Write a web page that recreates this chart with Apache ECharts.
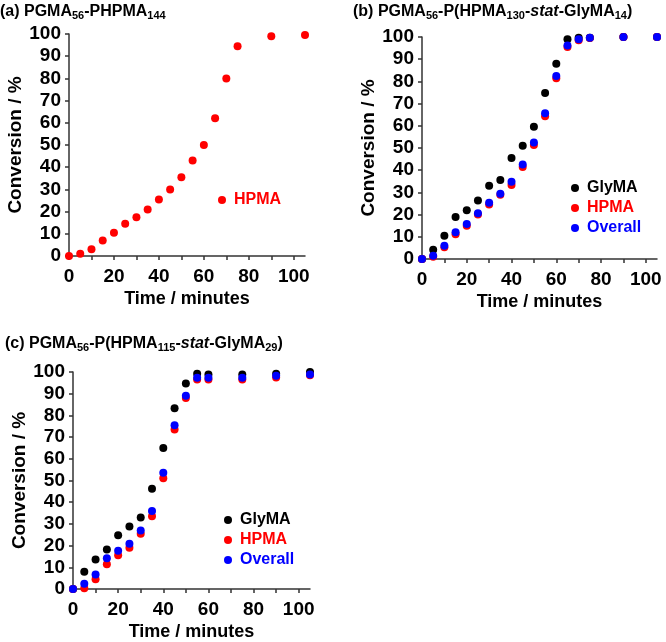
<!DOCTYPE html>
<html>
<head>
<meta charset="utf-8">
<script src="https://cdn.jsdelivr.net/npm/echarts@6/dist/echarts.min.js"></script>
<style>
  html, body { margin: 0; padding: 0; background: #fff; }
  #chart { width: 666px; height: 642px; }
</style>
</head>
<body>
<div id="chart"></div>
<script>
// panel (a) PGMA56-PHPMA144
const timeA = [0, 5, 10, 15, 20, 25, 30, 35, 40, 45, 50, 55, 60, 65, 70, 75, 90, 105];
const hpmaA = [0, 1, 3, 7, 10.5, 14.5, 17.5, 21, 25.5, 30, 35.5, 43, 50, 62, 80, 94.5, 99, 99.5];

// panel (b) PGMA56-P(HPMA130-stat-GlyMA14)
const timeB = [0, 5, 10, 15, 20, 25, 30, 35, 40, 45, 50, 55, 60, 65, 70, 75, 90, 105];
const glymaB = [0, 4.2, 10.5, 18.9, 22, 26.4, 33, 35.6, 45.5, 51, 59.6, 74.8, 88, 99, 99.7, 99.7, 100, 100];
const hpmaB = [0, 1, 5.3, 11.2, 15, 20, 24.5, 28.9, 33.3, 41.4, 51.4, 64.3, 81.4, 95.5, 98.5, 99.5, 100, 100];
const overallB = [0, 1.5, 6, 12, 15.8, 20.6, 25.3, 29.4, 34.8, 42.6, 52.5, 65.6, 82.4, 96.2, 99, 99.7, 100, 100];

// panel (c) PGMA56-P(HPMA115-stat-GlyMA29)
const timeC = [0, 5, 10, 15, 20, 25, 30, 35, 40, 45, 50, 55, 60, 75, 90, 105];
const glymaC = [0, 8, 13.6, 18.2, 24.8, 28.8, 32.9, 46.2, 65, 83.3, 94.7, 99.2, 98.8, 98.8, 99.2, 100];
const hpmaC = [0, 0.3, 4.5, 11.4, 15.6, 19, 25.5, 33.5, 51, 73.5, 88, 96.5, 96.5, 96.5, 97.5, 98.5];
const overallC = [0, 2.4, 6.7, 14.2, 17.6, 20.9, 27, 36, 53.6, 75.5, 89.1, 97.3, 97.3, 97.3, 98.3, 98.9];

const xTicks = [0, 10, 20, 30, 40, 50, 60, 70, 80, 90, 100];
const xLabels = [0, 20, 40, 60, 80, 100];

const FONT = '"Liberation Sans", Arial, sans-serif';
const RED = '#ff0000';
const BLUE = '#0000ff';
const BLACK = '#000000';

const chart = echarts.init(document.getElementById('chart'), null, { renderer: 'canvas' });

function pairs(xs, ys) {
    return xs.map((x, i) => [x, ys[i]]);
}

function xAxisFor(gridIndex) {
    return {
        type: 'value', gridIndex: gridIndex, min: 0, max: 105,
        name: 'Time / minutes', nameLocation: 'middle', nameGap: 34,
        nameTextStyle: { fontFamily: FONT, fontWeight: 'bold', fontSize: 18, color: '#000' },
        axisLine: { lineStyle: { color: '#333', width: 1.5 } },
        axisTick: { customValues: xTicks, length: 4, lineStyle: { color: '#333', width: 1.5 } },
        axisLabel: { customValues: xLabels, margin: 11, fontFamily: FONT, fontWeight: 'bold', fontSize: 19, color: '#000' },
        splitLine: { show: false }
    };
}

function yAxisFor(gridIndex) {
    return {
        type: 'value', gridIndex: gridIndex, min: 0, max: 100, interval: 10,
        name: 'Conversion / %', nameLocation: 'middle', nameGap: 44,
        nameTextStyle: { fontFamily: FONT, fontWeight: 'bold', fontSize: 19, color: '#000' },
        axisLine: { show: true, lineStyle: { color: '#333', width: 1.5 } },
        axisTick: { show: true, length: 4, lineStyle: { color: '#333', width: 1.5 } },
        axisLabel: { margin: 8, fontFamily: FONT, fontWeight: 'bold', fontSize: 19, color: '#000' },
        splitLine: { show: false }
    };
}

function scatter(name, idx, data, color) {
    return {
        name: name, type: 'scatter', xAxisIndex: idx, yAxisIndex: idx,
        data: data, symbolSize: 8, itemStyle: { color: color, opacity: 1 },
        emphasis: { disabled: true }
    };
}

const titleRich = {
    s: { fontFamily: FONT, fontWeight: 'bold', fontSize: 11, color: '#000', padding: [7, 0, 0, 0] },
    i: { fontFamily: FONT, fontWeight: 'bold', fontStyle: 'italic', fontSize: 16, color: '#000' }
};

function titleFor(text, left, top) {
    return {
        text: text, left: left, top: top, padding: 0,
        textStyle: { fontFamily: FONT, fontWeight: 'bold', fontSize: 16, color: '#000', rich: titleRich }
    };
}

function legendFor(items, left, top) {
    return {
        left: left, top: top, orient: 'vertical', itemGap: 4,
        itemWidth: 8, itemHeight: 8, icon: 'circle', padding: 0,
        selectedMode: false,
        textStyle: { fontFamily: FONT, fontWeight: 'bold', fontSize: 16, padding: [0, 0, 0, 3] },
        data: items.map(it => ({ name: it[0], textStyle: { color: it[1] } }))
    };
}

const option = {
    animation: false,
    backgroundColor: '#fff',
    title: [
        titleFor('(a) PGMA{s|56}-PHPMA{s|144}', 0, 3),
        titleFor('(b) PGMA{s|56}-P(HPMA{s|130}-{i|stat}-GlyMA{s|14})', 353, 3),
        titleFor('(c) PGMA{s|56}-P(HPMA{s|115}-{i|stat}-GlyMA{s|29})', 5, 335)
    ],
    legend: [
        legendFor([['HPMA', RED]], 218, 192),
        legendFor([['GlyMA', BLACK], ['HPMA', RED], ['Overall', BLUE]], 571, 180),
        legendFor([['GlyMA', BLACK], ['HPMA', RED], ['Overall', BLUE]], 224, 512)
    ],
    grid: [
        { left: 69, top: 34, width: 236, height: 222 },
        { left: 422, top: 37, width: 235, height: 222 },
        { left: 73, top: 372, width: 237, height: 220 }
    ],
    xAxis: [xAxisFor(0), xAxisFor(1), xAxisFor(2)],
    yAxis: [yAxisFor(0), yAxisFor(1), yAxisFor(2)],
    series: [
        scatter('HPMA', 0, pairs(timeA, hpmaA), RED),
        scatter('GlyMA', 1, pairs(timeB, glymaB), BLACK),
        scatter('HPMA', 1, pairs(timeB, hpmaB), RED),
        scatter('Overall', 1, pairs(timeB, overallB), BLUE),
        scatter('GlyMA', 2, pairs(timeC, glymaC), BLACK),
        scatter('HPMA', 2, pairs(timeC, hpmaC), RED),
        scatter('Overall', 2, pairs(timeC, overallC), BLUE)
    ]
};

chart.setOption(option);
</script>
</body>
</html>
